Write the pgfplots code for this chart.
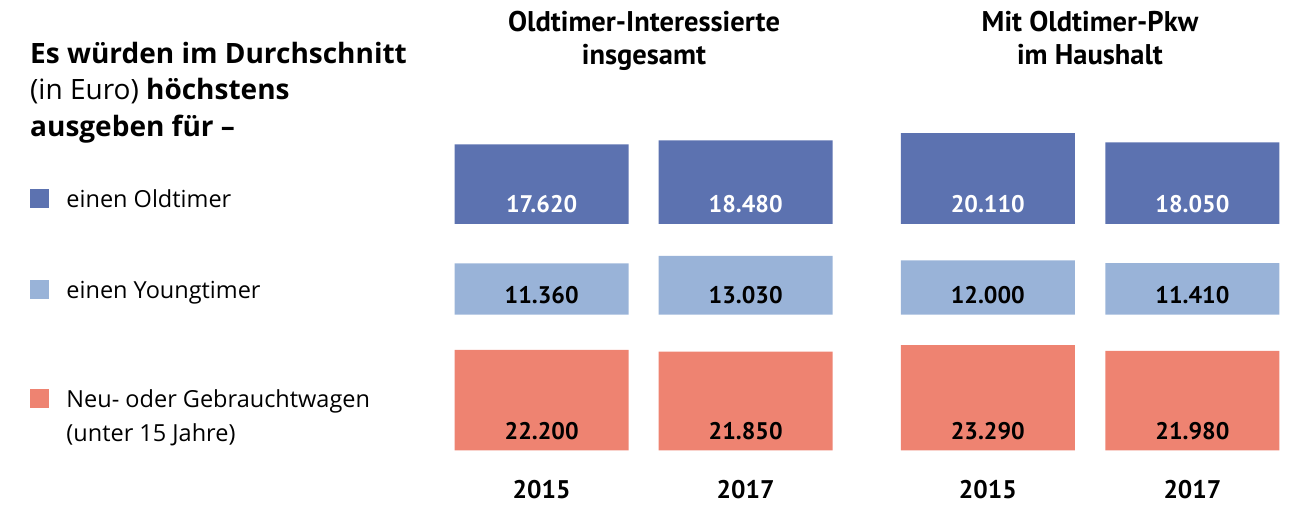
\documentclass[border=0pt]{standalone}
\usepackage{fontspec}
\setmainfont{PT Sans}
\newfontfamily\titlefont{Open Sans}
\usepackage{pgfplots}
\pgfplotsset{compat=1.18}
\usepackage{pgfplotstable}
\definecolor{cOld}{HTML}{5C72B0}
\definecolor{cYoung}{HTML}{99B3D8}
\definecolor{cNew}{HTML}{EE8371}

\pgfplotstableread{
x v
0 17620
1 18480
2.187 20110
3.19 18050
}\rowA
\pgfplotstableread{
x v
0 11360
1 13030
2.187 12000
3.19 11410
}\rowB
\pgfplotstableread{
x v
0 22200
1 21850
2.187 23290
3.19 21980
}\rowC

\newcommand{\lgtext}[1]{\vphantom{N}\smash{#1}}

\pgfplotsset{
  rowaxis/.style={
    scale only axis, width=1293pt, xmin=-2.655, xmax=3.683, ymin=0,
    axis line style={draw=none}, tick style={draw=none},
    ytick=\empty, xtick=\empty, clip=false, anchor=south west,
    legend style={draw=none, fill=none, inner sep=0pt, outer sep=0pt,
      anchor=west, font=\titlefont\fontsize{23.5}{33.5}\selectfont,
      /tikz/every odd column/.append style={column sep=15.5pt}},
    legend cell align=left,
    legend image code/.code={\fill[##1] (0pt,-8.4pt) rectangle (19pt,10.6pt);},
  },
  barstyle/.style={ybar, bar shift=0pt, bar width=174pt, draw=none, fill=#1},
  vlabel/.style={draw=none, mark=none, forget plot, nodes near coords,
    point meta=\thisrow{v},
    nodes near coords style={anchor=base, yshift=11pt, text=#1,
      font=\fontsize{24}{24}\selectfont\bfseries,
      /pgf/number format/fixed, /pgf/number format/precision=0,
      /pgf/number format/1000 sep={.},
      /pgf/number format/assume math mode=true}},
}

\begin{document}
\begin{tikzpicture}
\useasboundingbox (0,0) rectangle (1293pt,504pt);

% Row 1: Oldtimer
\begin{axis}[rowaxis, at={(0pt,280pt)}, height=99.44pt, ymax=22000,
  legend style={at={(0.0232,0.246)}}]
\addplot[barstyle=cOld] table[x=x,y=v]{\rowA};
\addlegendentry{\lgtext{einen Oldtimer}}
\addplot[vlabel=white] table[x=x,y expr=0]{\rowA};
\end{axis}

% Row 2: Youngtimer
\begin{axis}[rowaxis, at={(0pt,189.3pt)}, height=63.28pt, ymax=14000,
  legend style={at={(0.0232,0.382)}}]
\addplot[barstyle=cYoung] table[x=x,y=v]{\rowB};
\addlegendentry{\lgtext{einen Youngtimer}}
\addplot[vlabel=black] table[x=x,y expr=0]{\rowB};
\end{axis}

% Row 3: Neu- oder Gebrauchtwagen
\begin{axis}[rowaxis, at={(0pt,53.7pt)}, height=108.48pt, ymax=24000,
  legend style={at={(0.0232,0.464)}},
  xtick={0,1,2.187,3.19}, xticklabels={2015,2017,2015,2017},
  xticklabel style={anchor=base, yshift=-47.7pt, inner sep=0pt,
    font=\fontsize{25.5}{25.5}\selectfont\bfseries}]
\addplot[barstyle=cNew] table[x=x,y=v]{\rowC};
\addlegendentry{\lgtext{\begin{tabular}[t]{@{}l@{}}Neu- oder Gebrauchtwagen\\(unter 15 Jahre)\end{tabular}}}
\addplot[vlabel=black] table[x=x,y expr=0]{\rowC};
\end{axis}

% Title block
\node[anchor=base west, inner sep=0pt, font=\titlefont\fontsize{28}{36}\selectfont\bfseries] at (30pt,440.7pt) {Es würden im Durchschnitt};
\node[anchor=base west, inner sep=0pt, font=\titlefont\fontsize{28}{36}\selectfont] at (30pt,404pt) {(in Euro) \textbf{höchstens}};
\node[anchor=base west, inner sep=0pt, font=\titlefont\fontsize{28}{36}\selectfont\bfseries] at (30pt,367.5pt) {ausgeben für –};

% Column headers
\node[anchor=base, inner sep=0pt, font=\fontsize{28.5}{28.5}\selectfont\bfseries] at (644pt,472.3pt) {Oldtimer-Interessierte};
\node[anchor=base, inner sep=0pt, font=\fontsize{28.5}{28.5}\selectfont\bfseries] at (644pt,439pt) {insgesamt};
\node[anchor=base, inner sep=0pt, font=\fontsize{28.5}{28.5}\selectfont\bfseries] at (1090pt,472.3pt) {Mit Oldtimer-Pkw};
\node[anchor=base, inner sep=0pt, font=\fontsize{28.5}{28.5}\selectfont\bfseries] at (1090pt,439pt) {im Haushalt};
\end{tikzpicture}
\end{document}
